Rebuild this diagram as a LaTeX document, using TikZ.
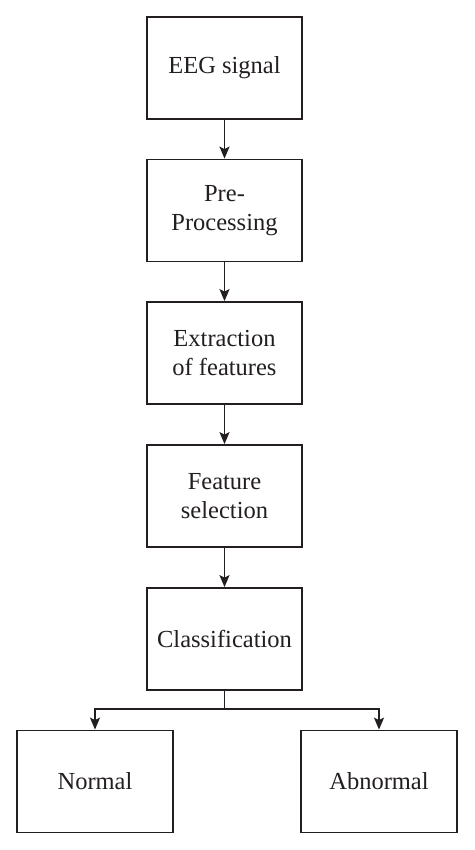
\documentclass[tikz,border=0pt]{standalone}
\usepackage{fontspec}
\setmainfont{Liberation Serif}
\usetikzlibrary{arrows.meta}
\definecolor{ink}{HTML}{231F20}
\begin{document}
\begin{tikzpicture}[x=1pt,y=-1pt,
  stepbox/.style={draw=ink, line width=1.8pt, minimum width=155pt, minimum height=102pt,
    inner sep=0pt, align=center, text=ink,
    font=\fontsize{24.5}{29.5}\selectfont},
  conn/.style={draw=ink, line width=1.8pt, -{Stealth[length=12pt,width=10pt,inset=2.5pt]}}]
\useasboundingbox (0,0) rectangle (474,850);
\fill[white] (0,0) rectangle (474,850);
\node[stepbox] (eeg) at (224.5,68) {EEG signal};
\node[stepbox] (pre) at (224.5,210.5) {Pre-\\Processing};
\node[stepbox] (ext) at (224.5,353) {Extraction\\of features};
\node[stepbox] (sel) at (224.5,496) {Feature\\selection};
\node[stepbox] (cls) at (224.5,639) {Classification};
\node[stepbox, minimum width=156pt] (nor) at (95,781.5) {Normal};
\node[stepbox, minimum width=156pt] (abn) at (379,781.5) {Abnormal};
\coordinate (br) at (224.5,709);
\draw[conn] (eeg) -- (pre);
\draw[conn] (pre) -- (ext);
\draw[conn] (ext) -- (sel);
\draw[conn] (sel) -- (cls);
\draw[draw=ink, line width=1.8pt] (cls.south) -- (br);
\draw[conn] (br) -| (nor.north);
\draw[conn] (br) -| (abn.north);
\end{tikzpicture}
\end{document}
